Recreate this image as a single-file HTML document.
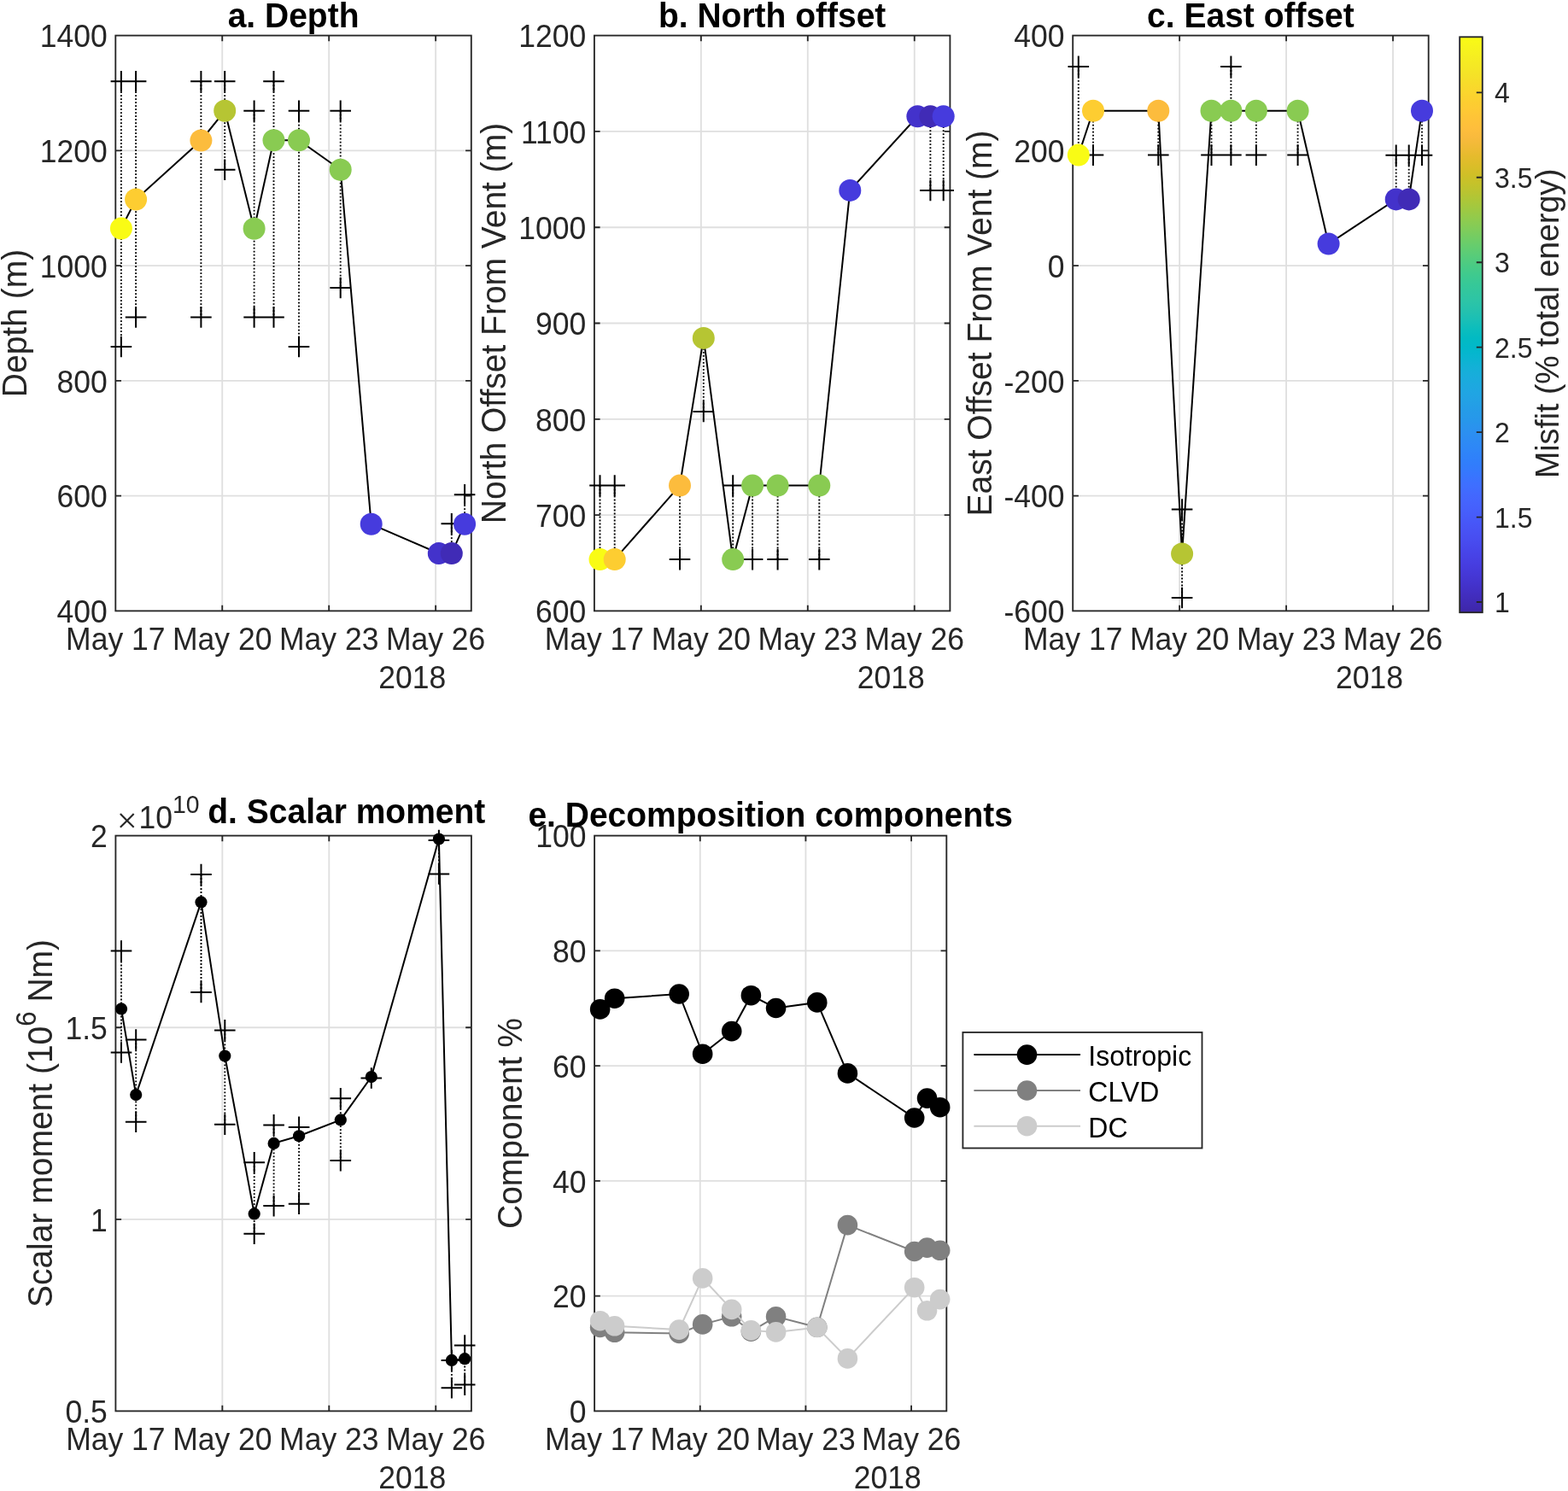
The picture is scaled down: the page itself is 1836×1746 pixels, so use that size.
<!DOCTYPE html><html><head><meta charset="utf-8"><style>html,body{margin:0;padding:0;background:#fff;}svg{display:block;}text{font-family:'Liberation Sans', Arial, Helvetica, sans-serif;}</style></head><body>
<svg width="1836" height="1746" viewBox="0 0 1836 1746">
<rect width="1836" height="1746" fill="#fff"/>
<path d="M260.25 41.60V715.40 M385.20 41.60V715.40 M510.15 41.60V715.40 M135.30 580.64H551.80 M135.30 445.88H551.80 M135.30 311.12H551.80 M135.30 176.36H551.80" stroke="#dfdfdf" stroke-width="1.85" fill="none"/>
<path d="M820.85 41.60V715.40 M945.80 41.60V715.40 M1070.75 41.60V715.40 M695.90 603.10H1112.40 M695.90 490.80H1112.40 M695.90 378.50H1112.40 M695.90 266.20H1112.40 M695.90 153.90H1112.40" stroke="#dfdfdf" stroke-width="1.85" fill="none"/>
<path d="M1381.15 41.60V715.40 M1506.10 41.60V715.40 M1631.05 41.60V715.40 M1256.20 580.64H1672.70 M1256.20 445.88H1672.70 M1256.20 311.12H1672.70 M1256.20 176.36H1672.70" stroke="#dfdfdf" stroke-width="1.85" fill="none"/>
<path d="M260.35 978.60V1652.40 M385.30 978.60V1652.40 M510.25 978.60V1652.40 M135.40 1427.80H551.90 M135.40 1203.20H551.90" stroke="#dfdfdf" stroke-width="1.85" fill="none"/>
<path d="M819.76 978.60V1652.40 M943.42 978.60V1652.40 M1067.08 978.60V1652.40 M696.10 1517.64H1108.30 M696.10 1382.88H1108.30 M696.10 1248.12H1108.30 M696.10 1113.36H1108.30" stroke="#dfdfdf" stroke-width="1.85" fill="none"/>
<path d="M260.25 715.40v-6.7 M260.25 41.60v6.7 M385.20 715.40v-6.7 M385.20 41.60v6.7 M510.15 715.40v-6.7 M510.15 41.60v6.7 M135.30 580.64h6.7 M551.80 580.64h-6.7 M135.30 445.88h6.7 M551.80 445.88h-6.7 M135.30 311.12h6.7 M551.80 311.12h-6.7 M135.30 176.36h6.7 M551.80 176.36h-6.7" stroke="#262626" stroke-width="1.85" fill="none"/>
<rect x="135.30" y="41.60" width="416.50" height="673.80" stroke="#262626" stroke-width="1.85" fill="none"/>
<text transform="translate(125.70,729.20) scale(1,1.042)" text-anchor="end" font-size="35.5" fill="#262626">400</text>
<text transform="translate(125.70,594.44) scale(1,1.042)" text-anchor="end" font-size="35.5" fill="#262626">600</text>
<text transform="translate(125.70,459.68) scale(1,1.042)" text-anchor="end" font-size="35.5" fill="#262626">800</text>
<text transform="translate(125.70,324.92) scale(1,1.042)" text-anchor="end" font-size="35.5" fill="#262626">1000</text>
<text transform="translate(125.70,190.16) scale(1,1.042)" text-anchor="end" font-size="35.5" fill="#262626">1200</text>
<text transform="translate(125.70,55.40) scale(1,1.042)" text-anchor="end" font-size="35.5" fill="#262626">1400</text>
<text transform="translate(135.30,760.90) scale(1,1.042)" text-anchor="middle" font-size="35.5" fill="#262626">May 17</text>
<text transform="translate(260.25,760.90) scale(1,1.042)" text-anchor="middle" font-size="35.5" fill="#262626">May 20</text>
<text transform="translate(385.20,760.90) scale(1,1.042)" text-anchor="middle" font-size="35.5" fill="#262626">May 23</text>
<text transform="translate(510.15,760.90) scale(1,1.042)" text-anchor="middle" font-size="35.5" fill="#262626">May 26</text>
<text transform="translate(522.20,805.90) scale(1,1.042)" text-anchor="end" font-size="35.5" fill="#262626">2018</text>
<path d="M820.85 715.40v-6.7 M820.85 41.60v6.7 M945.80 715.40v-6.7 M945.80 41.60v6.7 M1070.75 715.40v-6.7 M1070.75 41.60v6.7 M695.90 603.10h6.7 M1112.40 603.10h-6.7 M695.90 490.80h6.7 M1112.40 490.80h-6.7 M695.90 378.50h6.7 M1112.40 378.50h-6.7 M695.90 266.20h6.7 M1112.40 266.20h-6.7 M695.90 153.90h6.7 M1112.40 153.90h-6.7" stroke="#262626" stroke-width="1.85" fill="none"/>
<rect x="695.90" y="41.60" width="416.50" height="673.80" stroke="#262626" stroke-width="1.85" fill="none"/>
<text transform="translate(686.30,729.20) scale(1,1.042)" text-anchor="end" font-size="35.5" fill="#262626">600</text>
<text transform="translate(686.30,616.90) scale(1,1.042)" text-anchor="end" font-size="35.5" fill="#262626">700</text>
<text transform="translate(686.30,504.60) scale(1,1.042)" text-anchor="end" font-size="35.5" fill="#262626">800</text>
<text transform="translate(686.30,392.30) scale(1,1.042)" text-anchor="end" font-size="35.5" fill="#262626">900</text>
<text transform="translate(686.30,280.00) scale(1,1.042)" text-anchor="end" font-size="35.5" fill="#262626">1000</text>
<text transform="translate(686.30,167.70) scale(1,1.042)" text-anchor="end" font-size="35.5" fill="#262626">1100</text>
<text transform="translate(686.30,55.40) scale(1,1.042)" text-anchor="end" font-size="35.5" fill="#262626">1200</text>
<text transform="translate(695.90,760.90) scale(1,1.042)" text-anchor="middle" font-size="35.5" fill="#262626">May 17</text>
<text transform="translate(820.85,760.90) scale(1,1.042)" text-anchor="middle" font-size="35.5" fill="#262626">May 20</text>
<text transform="translate(945.80,760.90) scale(1,1.042)" text-anchor="middle" font-size="35.5" fill="#262626">May 23</text>
<text transform="translate(1070.75,760.90) scale(1,1.042)" text-anchor="middle" font-size="35.5" fill="#262626">May 26</text>
<text transform="translate(1082.80,805.90) scale(1,1.042)" text-anchor="end" font-size="35.5" fill="#262626">2018</text>
<path d="M1381.15 715.40v-6.7 M1381.15 41.60v6.7 M1506.10 715.40v-6.7 M1506.10 41.60v6.7 M1631.05 715.40v-6.7 M1631.05 41.60v6.7 M1256.20 580.64h6.7 M1672.70 580.64h-6.7 M1256.20 445.88h6.7 M1672.70 445.88h-6.7 M1256.20 311.12h6.7 M1672.70 311.12h-6.7 M1256.20 176.36h6.7 M1672.70 176.36h-6.7" stroke="#262626" stroke-width="1.85" fill="none"/>
<rect x="1256.20" y="41.60" width="416.50" height="673.80" stroke="#262626" stroke-width="1.85" fill="none"/>
<text transform="translate(1246.60,729.20) scale(1,1.042)" text-anchor="end" font-size="35.5" fill="#262626">-600</text>
<text transform="translate(1246.60,594.44) scale(1,1.042)" text-anchor="end" font-size="35.5" fill="#262626">-400</text>
<text transform="translate(1246.60,459.68) scale(1,1.042)" text-anchor="end" font-size="35.5" fill="#262626">-200</text>
<text transform="translate(1246.60,324.92) scale(1,1.042)" text-anchor="end" font-size="35.5" fill="#262626">0</text>
<text transform="translate(1246.60,190.16) scale(1,1.042)" text-anchor="end" font-size="35.5" fill="#262626">200</text>
<text transform="translate(1246.60,55.40) scale(1,1.042)" text-anchor="end" font-size="35.5" fill="#262626">400</text>
<text transform="translate(1256.20,760.90) scale(1,1.042)" text-anchor="middle" font-size="35.5" fill="#262626">May 17</text>
<text transform="translate(1381.15,760.90) scale(1,1.042)" text-anchor="middle" font-size="35.5" fill="#262626">May 20</text>
<text transform="translate(1506.10,760.90) scale(1,1.042)" text-anchor="middle" font-size="35.5" fill="#262626">May 23</text>
<text transform="translate(1631.05,760.90) scale(1,1.042)" text-anchor="middle" font-size="35.5" fill="#262626">May 26</text>
<text transform="translate(1643.10,805.90) scale(1,1.042)" text-anchor="end" font-size="35.5" fill="#262626">2018</text>
<path d="M260.35 1652.40v-6.7 M260.35 978.60v6.7 M385.30 1652.40v-6.7 M385.30 978.60v6.7 M510.25 1652.40v-6.7 M510.25 978.60v6.7 M135.40 1427.80h6.7 M551.90 1427.80h-6.7 M135.40 1203.20h6.7 M551.90 1203.20h-6.7" stroke="#262626" stroke-width="1.85" fill="none"/>
<rect x="135.40" y="978.60" width="416.50" height="673.80" stroke="#262626" stroke-width="1.85" fill="none"/>
<text transform="translate(125.80,1666.20) scale(1,1.042)" text-anchor="end" font-size="35.5" fill="#262626">0.5</text>
<text transform="translate(125.80,1441.60) scale(1,1.042)" text-anchor="end" font-size="35.5" fill="#262626">1</text>
<text transform="translate(125.80,1217.00) scale(1,1.042)" text-anchor="end" font-size="35.5" fill="#262626">1.5</text>
<text transform="translate(125.80,992.40) scale(1,1.042)" text-anchor="end" font-size="35.5" fill="#262626">2</text>
<text transform="translate(135.40,1697.90) scale(1,1.042)" text-anchor="middle" font-size="35.5" fill="#262626">May 17</text>
<text transform="translate(260.35,1697.90) scale(1,1.042)" text-anchor="middle" font-size="35.5" fill="#262626">May 20</text>
<text transform="translate(385.30,1697.90) scale(1,1.042)" text-anchor="middle" font-size="35.5" fill="#262626">May 23</text>
<text transform="translate(510.25,1697.90) scale(1,1.042)" text-anchor="middle" font-size="35.5" fill="#262626">May 26</text>
<text transform="translate(522.30,1742.90) scale(1,1.042)" text-anchor="end" font-size="35.5" fill="#262626">2018</text>
<path d="M819.76 1652.40v-6.7 M819.76 978.60v6.7 M943.42 1652.40v-6.7 M943.42 978.60v6.7 M1067.08 1652.40v-6.7 M1067.08 978.60v6.7 M696.10 1517.64h6.7 M1108.30 1517.64h-6.7 M696.10 1382.88h6.7 M1108.30 1382.88h-6.7 M696.10 1248.12h6.7 M1108.30 1248.12h-6.7 M696.10 1113.36h6.7 M1108.30 1113.36h-6.7" stroke="#262626" stroke-width="1.85" fill="none"/>
<rect x="696.10" y="978.60" width="412.20" height="673.80" stroke="#262626" stroke-width="1.85" fill="none"/>
<text transform="translate(686.50,1666.20) scale(1,1.042)" text-anchor="end" font-size="35.5" fill="#262626">0</text>
<text transform="translate(686.50,1531.44) scale(1,1.042)" text-anchor="end" font-size="35.5" fill="#262626">20</text>
<text transform="translate(686.50,1396.68) scale(1,1.042)" text-anchor="end" font-size="35.5" fill="#262626">40</text>
<text transform="translate(686.50,1261.92) scale(1,1.042)" text-anchor="end" font-size="35.5" fill="#262626">60</text>
<text transform="translate(686.50,1127.16) scale(1,1.042)" text-anchor="end" font-size="35.5" fill="#262626">80</text>
<text transform="translate(686.50,992.40) scale(1,1.042)" text-anchor="end" font-size="35.5" fill="#262626">100</text>
<text transform="translate(696.10,1697.90) scale(1,1.042)" text-anchor="middle" font-size="35.5" fill="#262626">May 17</text>
<text transform="translate(819.76,1697.90) scale(1,1.042)" text-anchor="middle" font-size="35.5" fill="#262626">May 20</text>
<text transform="translate(943.42,1697.90) scale(1,1.042)" text-anchor="middle" font-size="35.5" fill="#262626">May 23</text>
<text transform="translate(1067.08,1697.90) scale(1,1.042)" text-anchor="middle" font-size="35.5" fill="#262626">May 26</text>
<text transform="translate(1078.70,1742.90) scale(1,1.042)" text-anchor="end" font-size="35.5" fill="#262626">2018</text>
<path d="M141.90 95.30V406.00 M159.10 95.30V371.50 M235.40 95.30V371.50 M263.20 95.30V198.80 M297.60 129.70V371.50 M320.50 95.20V371.50 M350.00 129.70V406.00 M398.70 129.70V337.00 M528.80 613.30V648.10 M544.10 579.20V613.80" stroke="#000" stroke-width="1.9" stroke-dasharray="1.8 2.2" fill="none"/>
<path d="M129.60 95.30h24.60M141.90 83.00v24.60 M129.60 406.00h24.60M141.90 393.70v24.60 M146.80 95.30h24.60M159.10 83.00v24.60 M146.80 371.50h24.60M159.10 359.20v24.60 M223.10 95.30h24.60M235.40 83.00v24.60 M223.10 371.50h24.60M235.40 359.20v24.60 M250.90 95.30h24.60M263.20 83.00v24.60 M250.90 198.80h24.60M263.20 186.50v24.60 M285.30 129.70h24.60M297.60 117.40v24.60 M285.30 371.50h24.60M297.60 359.20v24.60 M308.20 95.20h24.60M320.50 82.90v24.60 M308.20 371.50h24.60M320.50 359.20v24.60 M337.70 129.70h24.60M350.00 117.40v24.60 M337.70 406.00h24.60M350.00 393.70v24.60 M386.40 129.70h24.60M398.70 117.40v24.60 M386.40 337.00h24.60M398.70 324.70v24.60 M516.50 613.30h24.60M528.80 601.00v24.60 M531.80 579.20h24.60M544.10 566.90v24.60" stroke="#000" stroke-width="2.0" fill="none"/>
<polyline points="141.90,267.60 159.10,233.50 235.40,164.50 263.20,129.80 297.60,267.80 320.50,164.30 350.00,164.20 398.70,198.75 434.70,613.80 513.80,648.10 528.80,648.10 544.10,613.80" stroke="#000" stroke-width="2.0" fill="none"/>
<circle cx="141.90" cy="267.60" r="13" fill="#f9fb15"/>
<circle cx="159.10" cy="233.50" r="13" fill="#fdcd31"/>
<circle cx="235.40" cy="164.50" r="13" fill="#fcbc3d"/>
<circle cx="263.20" cy="129.80" r="13" fill="#b6c533"/>
<circle cx="297.60" cy="267.80" r="13" fill="#89cb52"/>
<circle cx="320.50" cy="164.30" r="13" fill="#89cb52"/>
<circle cx="350.00" cy="164.20" r="13" fill="#89cb52"/>
<circle cx="398.70" cy="198.75" r="13" fill="#89cb52"/>
<circle cx="434.70" cy="613.80" r="13" fill="#463bdd"/>
<circle cx="513.80" cy="648.10" r="13" fill="#4332cb"/>
<circle cx="528.80" cy="648.10" r="13" fill="#402bb6"/>
<circle cx="544.10" cy="613.80" r="13" fill="#463bdd"/>
<path d="M702.50 568.60V655.10 M719.70 568.60V655.10 M796.00 568.60V655.10 M823.80 395.90V481.90 M858.20 568.60V655.10 M881.10 568.60V655.10 M910.60 568.60V655.10 M959.30 568.60V655.10 M1089.40 136.30V222.90 M1104.70 136.30V222.90" stroke="#000" stroke-width="1.9" stroke-dasharray="1.8 2.2" fill="none"/>
<path d="M690.20 568.60h24.60M702.50 556.30v24.60 M707.40 568.60h24.60M719.70 556.30v24.60 M783.70 655.10h24.60M796.00 642.80v24.60 M811.50 481.90h24.60M823.80 469.60v24.60 M845.90 568.60h24.60M858.20 556.30v24.60 M868.80 655.10h24.60M881.10 642.80v24.60 M898.30 655.10h24.60M910.60 642.80v24.60 M947.00 655.10h24.60M959.30 642.80v24.60 M1077.10 222.90h24.60M1089.40 210.60v24.60 M1092.40 222.90h24.60M1104.70 210.60v24.60" stroke="#000" stroke-width="2.0" fill="none"/>
<polyline points="702.50,655.10 719.70,655.10 796.00,568.60 823.80,395.90 858.20,655.10 881.10,568.60 910.60,568.60 959.30,568.60 995.30,222.90 1074.40,136.30 1089.40,136.30 1104.70,136.30" stroke="#000" stroke-width="2.0" fill="none"/>
<circle cx="702.50" cy="655.10" r="13" fill="#f9fb15"/>
<circle cx="719.70" cy="655.10" r="13" fill="#fdcd31"/>
<circle cx="796.00" cy="568.60" r="13" fill="#fcbc3d"/>
<circle cx="823.80" cy="395.90" r="13" fill="#b6c533"/>
<circle cx="858.20" cy="655.10" r="13" fill="#89cb52"/>
<circle cx="881.10" cy="568.60" r="13" fill="#89cb52"/>
<circle cx="910.60" cy="568.60" r="13" fill="#89cb52"/>
<circle cx="959.30" cy="568.60" r="13" fill="#89cb52"/>
<circle cx="995.30" cy="222.90" r="13" fill="#463bdd"/>
<circle cx="1074.40" cy="136.30" r="13" fill="#4332cb"/>
<circle cx="1089.40" cy="136.30" r="13" fill="#402bb6"/>
<circle cx="1104.70" cy="136.30" r="13" fill="#463bdd"/>
<path d="M1262.80 77.90V181.60 M1280.00 129.70V181.60 M1356.30 129.70V181.60 M1384.10 596.60V700.00 M1418.50 129.70V181.60 M1441.40 77.90V181.60 M1470.90 129.70V181.60 M1519.60 129.70V181.60 M1634.70 181.80V233.40 M1649.70 181.80V233.40 M1665.00 129.70V181.80" stroke="#000" stroke-width="1.9" stroke-dasharray="1.8 2.2" fill="none"/>
<path d="M1250.50 77.90h24.60M1262.80 65.60v24.60 M1267.70 181.60h24.60M1280.00 169.30v24.60 M1344.00 181.60h24.60M1356.30 169.30v24.60 M1371.80 596.60h24.60M1384.10 584.30v24.60 M1371.80 700.00h24.60M1384.10 687.70v24.60 M1406.20 181.60h24.60M1418.50 169.30v24.60 M1429.10 77.90h24.60M1441.40 65.60v24.60 M1429.10 181.60h24.60M1441.40 169.30v24.60 M1458.60 181.60h24.60M1470.90 169.30v24.60 M1507.30 181.60h24.60M1519.60 169.30v24.60 M1622.40 181.80h24.60M1634.70 169.50v24.60 M1637.40 181.80h24.60M1649.70 169.50v24.60 M1652.70 181.80h24.60M1665.00 169.50v24.60" stroke="#000" stroke-width="2.0" fill="none"/>
<polyline points="1262.80,181.60 1280.00,129.70 1356.30,129.70 1384.10,648.40 1418.50,129.70 1441.40,129.70 1470.90,129.70 1519.60,129.70 1555.60,285.50 1634.70,233.40 1649.70,233.40 1665.00,129.70" stroke="#000" stroke-width="2.0" fill="none"/>
<circle cx="1262.80" cy="181.60" r="13" fill="#f9fb15"/>
<circle cx="1280.00" cy="129.70" r="13" fill="#fdcd31"/>
<circle cx="1356.30" cy="129.70" r="13" fill="#fcbc3d"/>
<circle cx="1384.10" cy="648.40" r="13" fill="#b6c533"/>
<circle cx="1418.50" cy="129.70" r="13" fill="#89cb52"/>
<circle cx="1441.40" cy="129.70" r="13" fill="#89cb52"/>
<circle cx="1470.90" cy="129.70" r="13" fill="#89cb52"/>
<circle cx="1519.60" cy="129.70" r="13" fill="#89cb52"/>
<circle cx="1555.60" cy="285.50" r="13" fill="#463bdd"/>
<circle cx="1634.70" cy="233.40" r="13" fill="#4332cb"/>
<circle cx="1649.70" cy="233.40" r="13" fill="#402bb6"/>
<circle cx="1665.00" cy="129.70" r="13" fill="#463bdd"/>
<path d="M142.00 1113.60V1232.50 M159.20 1217.50V1313.80 M235.50 1024.10V1162.00 M263.30 1206.40V1316.80 M297.70 1361.20V1444.80 M320.60 1317.40V1412.10 M350.10 1319.90V1409.80 M398.80 1286.30V1359.10 M434.80 1261.10V1262.50 M513.90 982.50V1023.40 M528.90 1592.90V1625.20 M544.20 1575.60V1621.60" stroke="#000" stroke-width="1.9" stroke-dasharray="1.8 2.2" fill="none"/>
<path d="M129.70 1113.60h24.60M142.00 1101.30v24.60 M129.70 1232.50h24.60M142.00 1220.20v24.60 M146.90 1217.50h24.60M159.20 1205.20v24.60 M146.90 1313.80h24.60M159.20 1301.50v24.60 M223.20 1024.10h24.60M235.50 1011.80v24.60 M223.20 1162.00h24.60M235.50 1149.70v24.60 M251.00 1206.40h24.60M263.30 1194.10v24.60 M251.00 1316.80h24.60M263.30 1304.50v24.60 M285.40 1361.20h24.60M297.70 1348.90v24.60 M285.40 1444.80h24.60M297.70 1432.50v24.60 M308.30 1317.40h24.60M320.60 1305.10v24.60 M308.30 1412.10h24.60M320.60 1399.80v24.60 M337.80 1319.90h24.60M350.10 1307.60v24.60 M337.80 1409.80h24.60M350.10 1397.50v24.60 M386.50 1286.30h24.60M398.80 1274.00v24.60 M386.50 1359.10h24.60M398.80 1346.80v24.60 M422.50 1262.50h24.60M434.80 1250.20v24.60 M501.60 984.00h24.60M513.90 971.70v24.60 M501.60 1023.40h24.60M513.90 1011.10v24.60 M516.60 1593.00h24.60M528.90 1580.70v24.60 M516.60 1625.20h24.60M528.90 1612.90v24.60 M531.90 1575.60h24.60M544.20 1563.30v24.60 M531.90 1621.60h24.60M544.20 1609.30v24.60" stroke="#000" stroke-width="2.0" fill="none"/>
<polyline points="142.00,1181.40 159.20,1282.10 235.50,1056.40 263.30,1236.50 297.70,1421.40 320.60,1338.90 350.10,1330.30 398.80,1311.40 434.80,1261.10 513.90,982.50 528.90,1592.90 544.20,1591.20" stroke="#000" stroke-width="2.0" fill="none"/>
<circle cx="142.00" cy="1181.40" r="7.1" fill="#000"/>
<circle cx="159.20" cy="1282.10" r="7.1" fill="#000"/>
<circle cx="235.50" cy="1056.40" r="7.1" fill="#000"/>
<circle cx="263.30" cy="1236.50" r="7.1" fill="#000"/>
<circle cx="297.70" cy="1421.40" r="7.1" fill="#000"/>
<circle cx="320.60" cy="1338.90" r="7.1" fill="#000"/>
<circle cx="350.10" cy="1330.30" r="7.1" fill="#000"/>
<circle cx="398.80" cy="1311.40" r="7.1" fill="#000"/>
<circle cx="434.80" cy="1261.10" r="7.1" fill="#000"/>
<circle cx="513.90" cy="982.50" r="7.1" fill="#000"/>
<circle cx="528.90" cy="1592.90" r="7.1" fill="#000"/>
<circle cx="544.20" cy="1591.20" r="7.1" fill="#000"/>
<polyline points="702.63,1181.90 719.65,1169.20 795.17,1164.00 822.68,1234.20 856.72,1207.60 879.39,1165.70 908.58,1180.50 956.78,1173.90 992.41,1256.90 1070.69,1309.00 1085.54,1286.10 1100.68,1296.70" stroke="#000" stroke-width="2.0" fill="none"/>
<circle cx="702.63" cy="1181.90" r="11.8" fill="#000"/>
<circle cx="719.65" cy="1169.20" r="11.8" fill="#000"/>
<circle cx="795.17" cy="1164.00" r="11.8" fill="#000"/>
<circle cx="822.68" cy="1234.20" r="11.8" fill="#000"/>
<circle cx="856.72" cy="1207.60" r="11.8" fill="#000"/>
<circle cx="879.39" cy="1165.70" r="11.8" fill="#000"/>
<circle cx="908.58" cy="1180.50" r="11.8" fill="#000"/>
<circle cx="956.78" cy="1173.90" r="11.8" fill="#000"/>
<circle cx="992.41" cy="1256.90" r="11.8" fill="#000"/>
<circle cx="1070.69" cy="1309.00" r="11.8" fill="#000"/>
<circle cx="1085.54" cy="1286.10" r="11.8" fill="#000"/>
<circle cx="1100.68" cy="1296.70" r="11.8" fill="#000"/>
<polyline points="702.63,1554.50 719.65,1560.30 795.17,1561.50 822.68,1550.90 856.72,1541.80 879.39,1559.10 908.58,1541.80 956.78,1554.30 992.41,1434.60 1070.69,1465.50 1085.54,1461.10 1100.68,1464.30" stroke="#808080" stroke-width="2.0" fill="none"/>
<circle cx="702.63" cy="1554.50" r="11.8" fill="#808080"/>
<circle cx="719.65" cy="1560.30" r="11.8" fill="#808080"/>
<circle cx="795.17" cy="1561.50" r="11.8" fill="#808080"/>
<circle cx="822.68" cy="1550.90" r="11.8" fill="#808080"/>
<circle cx="856.72" cy="1541.80" r="11.8" fill="#808080"/>
<circle cx="879.39" cy="1559.10" r="11.8" fill="#808080"/>
<circle cx="908.58" cy="1541.80" r="11.8" fill="#808080"/>
<circle cx="956.78" cy="1554.30" r="11.8" fill="#808080"/>
<circle cx="992.41" cy="1434.60" r="11.8" fill="#808080"/>
<circle cx="1070.69" cy="1465.50" r="11.8" fill="#808080"/>
<circle cx="1085.54" cy="1461.10" r="11.8" fill="#808080"/>
<circle cx="1100.68" cy="1464.30" r="11.8" fill="#808080"/>
<polyline points="702.63,1546.70 719.65,1552.80 795.17,1557.10 822.68,1496.90 856.72,1533.40 879.39,1557.90 908.58,1559.90 956.78,1554.50 992.41,1590.90 1070.69,1507.70 1085.54,1534.80 1100.68,1521.60" stroke="#cccccc" stroke-width="2.0" fill="none"/>
<circle cx="702.63" cy="1546.70" r="11.8" fill="#cccccc"/>
<circle cx="719.65" cy="1552.80" r="11.8" fill="#cccccc"/>
<circle cx="795.17" cy="1557.10" r="11.8" fill="#cccccc"/>
<circle cx="822.68" cy="1496.90" r="11.8" fill="#cccccc"/>
<circle cx="856.72" cy="1533.40" r="11.8" fill="#cccccc"/>
<circle cx="879.39" cy="1557.90" r="11.8" fill="#cccccc"/>
<circle cx="908.58" cy="1559.90" r="11.8" fill="#cccccc"/>
<circle cx="956.78" cy="1554.50" r="11.8" fill="#cccccc"/>
<circle cx="992.41" cy="1590.90" r="11.8" fill="#cccccc"/>
<circle cx="1070.69" cy="1507.70" r="11.8" fill="#cccccc"/>
<circle cx="1085.54" cy="1534.80" r="11.8" fill="#cccccc"/>
<circle cx="1100.68" cy="1521.60" r="11.8" fill="#cccccc"/>
<text transform="translate(343.55,31.80) scale(1,1.042)" text-anchor="middle" font-weight="bold" font-size="39.0" fill="#000">a. Depth</text>
<text transform="translate(904.15,31.80) scale(1,1.042)" text-anchor="middle" font-weight="bold" font-size="39.0" fill="#000">b. North offset</text>
<text transform="translate(1464.45,31.80) scale(1,1.042)" text-anchor="middle" font-weight="bold" font-size="39.0" fill="#000">c. East offset</text>
<text transform="translate(902.20,967.60) scale(1,1.042)" text-anchor="middle" font-weight="bold" font-size="39.0" fill="#000">e. Decomposition components</text>
<text transform="translate(243.30,964.20) scale(1,1.042)" font-weight="bold" font-size="39.0" fill="#000">d. Scalar moment</text>
<text x="136.75" y="975.4" style="font-family:'Liberation Serif', serif" font-size="42.5" fill="#262626">&#215;</text>
<text transform="translate(162.50,970.10) scale(1,1.042)" font-size="35.5" fill="#262626">10</text>
<text transform="translate(202.00,951.70) scale(1,1.042)" font-size="28.4" fill="#262626">10</text>
<text transform="translate(31.30,378.50) rotate(-90) scale(1,1.042)" text-anchor="middle" font-size="39.0" fill="#262626">Depth (m)</text>
<text transform="translate(591.70,378.50) rotate(-90) scale(1,1.042)" text-anchor="middle" font-size="39.0" fill="#262626">North Offset From Vent (m)</text>
<text transform="translate(1160.60,378.50) rotate(-90) scale(1,1.042)" text-anchor="middle" font-size="39.0" fill="#262626">East Offset From Vent (m)</text>
<text transform="translate(61.10,1315.50) rotate(-90) scale(1,1.042)" text-anchor="middle" font-size="39.0" fill="#262626">Scalar moment (10<tspan font-size="31.2" dy="-18.2">6</tspan><tspan dy="18.2"> Nm)</tspan></text>
<text transform="translate(610.50,1315.50) rotate(-90) scale(1,1.042)" text-anchor="middle" font-size="39.0" fill="#262626">Component %</text>
<defs><linearGradient id="cb" x1="0" y1="1" x2="0" y2="0"><stop offset="0.0000" stop-color="#3e26a8"/><stop offset="0.0159" stop-color="#402ab4"/><stop offset="0.0317" stop-color="#422ec0"/><stop offset="0.0476" stop-color="#4332cb"/><stop offset="0.0635" stop-color="#4537d5"/><stop offset="0.0794" stop-color="#463cde"/><stop offset="0.0952" stop-color="#4741e5"/><stop offset="0.1111" stop-color="#4747eb"/><stop offset="0.1270" stop-color="#484df0"/><stop offset="0.1429" stop-color="#4852f4"/><stop offset="0.1587" stop-color="#4758f8"/><stop offset="0.1746" stop-color="#465efb"/><stop offset="0.1905" stop-color="#4563fd"/><stop offset="0.2063" stop-color="#4269fe"/><stop offset="0.2222" stop-color="#3e6fff"/><stop offset="0.2381" stop-color="#3875fe"/><stop offset="0.2540" stop-color="#327cfc"/><stop offset="0.2698" stop-color="#2f81fa"/><stop offset="0.2857" stop-color="#2e87f7"/><stop offset="0.3016" stop-color="#2d8cf3"/><stop offset="0.3175" stop-color="#2b91ef"/><stop offset="0.3333" stop-color="#2797eb"/><stop offset="0.3492" stop-color="#259be8"/><stop offset="0.3651" stop-color="#23a0e5"/><stop offset="0.3810" stop-color="#20a5e3"/><stop offset="0.3968" stop-color="#1ca9df"/><stop offset="0.4127" stop-color="#18addb"/><stop offset="0.4286" stop-color="#12b1d6"/><stop offset="0.4444" stop-color="#08b5d0"/><stop offset="0.4603" stop-color="#01b8ca"/><stop offset="0.4762" stop-color="#02bac3"/><stop offset="0.4921" stop-color="#0bbdbd"/><stop offset="0.5079" stop-color="#19bfb6"/><stop offset="0.5238" stop-color="#24c1ae"/><stop offset="0.5397" stop-color="#2cc4a7"/><stop offset="0.5556" stop-color="#31c69f"/><stop offset="0.5714" stop-color="#37c897"/><stop offset="0.5873" stop-color="#3fca8e"/><stop offset="0.6032" stop-color="#4acb84"/><stop offset="0.6190" stop-color="#57cc7a"/><stop offset="0.6349" stop-color="#64cd6f"/><stop offset="0.6508" stop-color="#72cd64"/><stop offset="0.6667" stop-color="#81cc59"/><stop offset="0.6825" stop-color="#8fcb4e"/><stop offset="0.6984" stop-color="#9dc943"/><stop offset="0.7143" stop-color="#abc739"/><stop offset="0.7302" stop-color="#b9c431"/><stop offset="0.7460" stop-color="#c5c22a"/><stop offset="0.7619" stop-color="#d1bf27"/><stop offset="0.7778" stop-color="#dcbd29"/><stop offset="0.7937" stop-color="#e6bb2d"/><stop offset="0.8095" stop-color="#f0ba36"/><stop offset="0.8254" stop-color="#f8ba3d"/><stop offset="0.8413" stop-color="#febe3c"/><stop offset="0.8571" stop-color="#fec338"/><stop offset="0.8730" stop-color="#fec934"/><stop offset="0.8889" stop-color="#fccf30"/><stop offset="0.9048" stop-color="#fad62d"/><stop offset="0.9206" stop-color="#f7dc2a"/><stop offset="0.9365" stop-color="#f5e327"/><stop offset="0.9524" stop-color="#f5e924"/><stop offset="0.9683" stop-color="#f6ef20"/><stop offset="0.9841" stop-color="#f7f51b"/><stop offset="1.0000" stop-color="#f9fb15"/></linearGradient></defs>
<rect x="1709.2" y="43.3" width="26.60" height="673.90" fill="url(#cb)" stroke="#262626" stroke-width="1.85"/>
<text transform="translate(1750.00,717.01) scale(1,1.042)" font-size="32" fill="#262626">1</text>
<text transform="translate(1750.00,617.56) scale(1,1.042)" font-size="32" fill="#262626">1.5</text>
<text transform="translate(1750.00,518.12) scale(1,1.042)" font-size="32" fill="#262626">2</text>
<text transform="translate(1750.00,418.67) scale(1,1.042)" font-size="32" fill="#262626">2.5</text>
<text transform="translate(1750.00,319.23) scale(1,1.042)" font-size="32" fill="#262626">3</text>
<text transform="translate(1750.00,219.78) scale(1,1.042)" font-size="32" fill="#262626">3.5</text>
<text transform="translate(1750.00,120.34) scale(1,1.042)" font-size="32" fill="#262626">4</text>
<path d="M1735.80 705.01h-7 M1735.80 605.56h-7 M1735.80 506.12h-7 M1735.80 406.67h-7 M1735.80 307.23h-7 M1735.80 207.78h-7 M1735.80 108.34h-7" stroke="#262626" stroke-width="1.85" fill="none"/>
<text transform="translate(1824.80,378.75) rotate(-90) scale(1,1.042)" text-anchor="middle" font-size="37.5" fill="#262626">Misfit (% total energy)</text>
<rect x="1127.4" y="1208.9" width="280.1" height="135.6" fill="#fff" stroke="#262626" stroke-width="1.85"/>
<path d="M1140.4 1235.1H1265" stroke="#000" stroke-width="2.0"/>
<circle cx="1202.5" cy="1235.1" r="11.8" fill="#000"/>
<text transform="translate(1274.30,1247.90) scale(1,1.042)" font-size="32" fill="#000">Isotropic</text>
<path d="M1140.4 1277.0H1265" stroke="#808080" stroke-width="2.0"/>
<circle cx="1202.5" cy="1277.0" r="11.8" fill="#808080"/>
<text transform="translate(1274.30,1289.80) scale(1,1.042)" font-size="32" fill="#000">CLVD</text>
<path d="M1140.4 1318.7H1265" stroke="#cccccc" stroke-width="2.0"/>
<circle cx="1202.5" cy="1318.7" r="11.8" fill="#cccccc"/>
<text transform="translate(1274.30,1331.50) scale(1,1.042)" font-size="32" fill="#000">DC</text>
</svg></body></html>
